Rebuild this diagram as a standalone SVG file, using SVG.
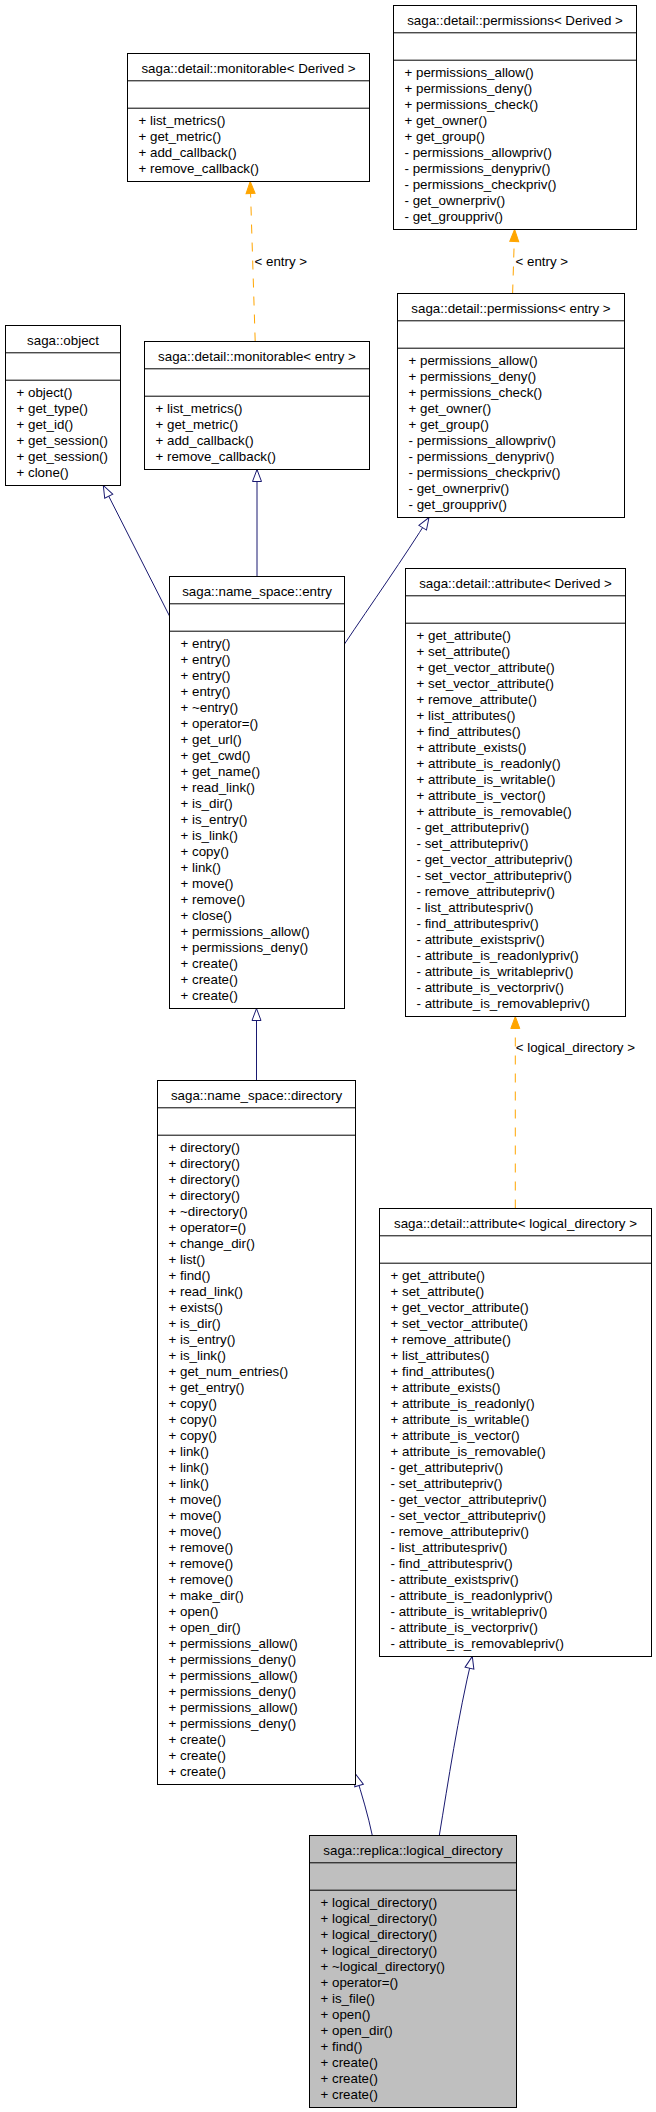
<svg xmlns="http://www.w3.org/2000/svg" width="656" height="2112" viewBox="0 0 656 2112">
<style>
text{font-family:"Liberation Sans",Arial,Helvetica,sans-serif;font-size:13.33px;fill:#000}
.box rect{fill:#fff;stroke:#000;stroke-width:1}
.box.cur rect{fill:#bfbfbf}
.box line{stroke:#000;stroke-width:1}
.ttl{text-anchor:middle}
.inh{stroke:#191970;stroke-width:1;fill:none}
.tpl{stroke:#ffa500;stroke-width:1;fill:none;stroke-dasharray:9,9}
</style>
<defs>
<marker id="hollow" markerUnits="userSpaceOnUse" viewBox="-2 -2 16 13" markerWidth="16" markerHeight="13" refX="12" refY="4.5" orient="auto">
<path d="M0,0 L12,4.5 L0,9 Z" fill="#fff" stroke="#191970" stroke-width="1" stroke-dasharray="none"/>
</marker>
<marker id="filled" markerUnits="userSpaceOnUse" viewBox="-2 -2 16 13" markerWidth="16" markerHeight="13" refX="12" refY="4.5" orient="auto">
<path d="M0,0 L12,4.5 L0,9 Z" fill="#ffa500" stroke="#ffa500" stroke-width="1" stroke-dasharray="none"/>
</marker>
</defs>
<rect x="0" y="0" width="656" height="2112" fill="#fff"/>

<g id="connectors">
<path class="inh" d="M169.5,616 L103.3,485.5" marker-end="url(#hollow)"/>
<path class="inh" d="M257,576.5 L257,469.5" marker-end="url(#hollow)"/>
<path class="inh" d="M344.5,644 C370,606 405,556 429,517.5" marker-end="url(#hollow)"/>
<path class="inh" d="M256.5,1080.5 L256.5,1008.5" marker-end="url(#hollow)"/>
<path class="inh" d="M372.3,1835.5 C368,1815 362,1795 355.5,1774" marker-end="url(#hollow)"/>
<path class="inh" d="M439.3,1835.5 C448,1783 458,1716 472.3,1656.5" marker-end="url(#hollow)"/>
<path class="tpl" d="M255.2,341.5 L250.2,181.5" marker-end="url(#filled)"/>
<path class="tpl" d="M512.6,293.5 L514.6,229.5" marker-end="url(#filled)"/>
<path class="tpl" d="M515.3,1208.5 L515.3,1016.5" marker-end="url(#filled)"/>
<text x="254.5" y="265.5">&lt; entry &gt;</text>
<text x="515.5" y="265.5">&lt; entry &gt;</text>
<text x="515.7" y="1051.7">&lt; logical_directory &gt;</text>
</g>

<g id="permissions_derived" class="box" transform="translate(393.5,5.5)">
<rect width="243" height="224"/><line x1="0" y1="27.3" x2="243" y2="27.3"/><line x1="0" y1="54.7" x2="243" y2="54.7"/>
<text class="ttl" x="121.5" y="19.7">saga::detail::permissions&lt; Derived &gt;</text>
<text x="11" y="71.3"><tspan x="11" y="71.3">+ permissions_allow()</tspan><tspan x="11" dy="16">+ permissions_deny()</tspan><tspan x="11" dy="16">+ permissions_check()</tspan><tspan x="11" dy="16">+ get_owner()</tspan><tspan x="11" dy="16">+ get_group()</tspan><tspan x="11" dy="16">- permissions_allowpriv()</tspan><tspan x="11" dy="16">- permissions_denypriv()</tspan><tspan x="11" dy="16">- permissions_checkpriv()</tspan><tspan x="11" dy="16">- get_ownerpriv()</tspan><tspan x="11" dy="16">- get_grouppriv()</tspan></text>
</g>

<g id="monitorable_derived" class="box" transform="translate(127.5,53.5)">
<rect width="242" height="128"/><line x1="0" y1="27.3" x2="242" y2="27.3"/><line x1="0" y1="54.7" x2="242" y2="54.7"/>
<text class="ttl" x="121" y="19.7">saga::detail::monitorable&lt; Derived &gt;</text>
<text x="11" y="71.3"><tspan x="11" y="71.3">+ list_metrics()</tspan><tspan x="11" dy="16">+ get_metric()</tspan><tspan x="11" dy="16">+ add_callback()</tspan><tspan x="11" dy="16">+ remove_callback()</tspan></text>
</g>

<g id="object" class="box" transform="translate(5.5,325.5)">
<rect width="115" height="160"/><line x1="0" y1="27.3" x2="115" y2="27.3"/><line x1="0" y1="54.7" x2="115" y2="54.7"/>
<text class="ttl" x="57.5" y="19.7">saga::object</text>
<text x="11" y="71.3"><tspan x="11" y="71.3">+ object()</tspan><tspan x="11" dy="16">+ get_type()</tspan><tspan x="11" dy="16">+ get_id()</tspan><tspan x="11" dy="16">+ get_session()</tspan><tspan x="11" dy="16">+ get_session()</tspan><tspan x="11" dy="16">+ clone()</tspan></text>
</g>

<g id="monitorable_entry" class="box" transform="translate(144.5,341.5)">
<rect width="225" height="128"/><line x1="0" y1="27.3" x2="225" y2="27.3"/><line x1="0" y1="54.7" x2="225" y2="54.7"/>
<text class="ttl" x="112.5" y="19.7">saga::detail::monitorable&lt; entry &gt;</text>
<text x="11" y="71.3"><tspan x="11" y="71.3">+ list_metrics()</tspan><tspan x="11" dy="16">+ get_metric()</tspan><tspan x="11" dy="16">+ add_callback()</tspan><tspan x="11" dy="16">+ remove_callback()</tspan></text>
</g>

<g id="permissions_entry" class="box" transform="translate(397.5,293.5)">
<rect width="227" height="224"/><line x1="0" y1="27.3" x2="227" y2="27.3"/><line x1="0" y1="54.7" x2="227" y2="54.7"/>
<text class="ttl" x="113.5" y="19.7">saga::detail::permissions&lt; entry &gt;</text>
<text x="11" y="71.3"><tspan x="11" y="71.3">+ permissions_allow()</tspan><tspan x="11" dy="16">+ permissions_deny()</tspan><tspan x="11" dy="16">+ permissions_check()</tspan><tspan x="11" dy="16">+ get_owner()</tspan><tspan x="11" dy="16">+ get_group()</tspan><tspan x="11" dy="16">- permissions_allowpriv()</tspan><tspan x="11" dy="16">- permissions_denypriv()</tspan><tspan x="11" dy="16">- permissions_checkpriv()</tspan><tspan x="11" dy="16">- get_ownerpriv()</tspan><tspan x="11" dy="16">- get_grouppriv()</tspan></text>
</g>

<g id="name_space_entry" class="box" transform="translate(169.5,576.5)">
<rect width="175" height="432"/><line x1="0" y1="27.3" x2="175" y2="27.3"/><line x1="0" y1="54.7" x2="175" y2="54.7"/>
<text class="ttl" x="87.5" y="19.7">saga::name_space::entry</text>
<text x="11" y="71.3"><tspan x="11" y="71.3">+ entry()</tspan><tspan x="11" dy="16">+ entry()</tspan><tspan x="11" dy="16">+ entry()</tspan><tspan x="11" dy="16">+ entry()</tspan><tspan x="11" dy="16">+ ~entry()</tspan><tspan x="11" dy="16">+ operator=()</tspan><tspan x="11" dy="16">+ get_url()</tspan><tspan x="11" dy="16">+ get_cwd()</tspan><tspan x="11" dy="16">+ get_name()</tspan><tspan x="11" dy="16">+ read_link()</tspan><tspan x="11" dy="16">+ is_dir()</tspan><tspan x="11" dy="16">+ is_entry()</tspan><tspan x="11" dy="16">+ is_link()</tspan><tspan x="11" dy="16">+ copy()</tspan><tspan x="11" dy="16">+ link()</tspan><tspan x="11" dy="16">+ move()</tspan><tspan x="11" dy="16">+ remove()</tspan><tspan x="11" dy="16">+ close()</tspan><tspan x="11" dy="16">+ permissions_allow()</tspan><tspan x="11" dy="16">+ permissions_deny()</tspan><tspan x="11" dy="16">+ create()</tspan><tspan x="11" dy="16">+ create()</tspan><tspan x="11" dy="16">+ create()</tspan></text>
</g>

<g id="attribute_derived" class="box" transform="translate(405.5,568.5)">
<rect width="220" height="448"/><line x1="0" y1="27.3" x2="220" y2="27.3"/><line x1="0" y1="54.7" x2="220" y2="54.7"/>
<text class="ttl" x="110" y="19.7">saga::detail::attribute&lt; Derived &gt;</text>
<text x="11" y="71.3"><tspan x="11" y="71.3">+ get_attribute()</tspan><tspan x="11" dy="16">+ set_attribute()</tspan><tspan x="11" dy="16">+ get_vector_attribute()</tspan><tspan x="11" dy="16">+ set_vector_attribute()</tspan><tspan x="11" dy="16">+ remove_attribute()</tspan><tspan x="11" dy="16">+ list_attributes()</tspan><tspan x="11" dy="16">+ find_attributes()</tspan><tspan x="11" dy="16">+ attribute_exists()</tspan><tspan x="11" dy="16">+ attribute_is_readonly()</tspan><tspan x="11" dy="16">+ attribute_is_writable()</tspan><tspan x="11" dy="16">+ attribute_is_vector()</tspan><tspan x="11" dy="16">+ attribute_is_removable()</tspan><tspan x="11" dy="16">- get_attributepriv()</tspan><tspan x="11" dy="16">- set_attributepriv()</tspan><tspan x="11" dy="16">- get_vector_attributepriv()</tspan><tspan x="11" dy="16">- set_vector_attributepriv()</tspan><tspan x="11" dy="16">- remove_attributepriv()</tspan><tspan x="11" dy="16">- list_attributespriv()</tspan><tspan x="11" dy="16">- find_attributespriv()</tspan><tspan x="11" dy="16">- attribute_existspriv()</tspan><tspan x="11" dy="16">- attribute_is_readonlypriv()</tspan><tspan x="11" dy="16">- attribute_is_writablepriv()</tspan><tspan x="11" dy="16">- attribute_is_vectorpriv()</tspan><tspan x="11" dy="16">- attribute_is_removablepriv()</tspan></text>
</g>

<g id="name_space_directory" class="box" transform="translate(157.5,1080.5)">
<rect width="198" height="704"/><line x1="0" y1="27.3" x2="198" y2="27.3"/><line x1="0" y1="54.7" x2="198" y2="54.7"/>
<text class="ttl" x="99" y="19.7">saga::name_space::directory</text>
<text x="11" y="71.3"><tspan x="11" y="71.3">+ directory()</tspan><tspan x="11" dy="16">+ directory()</tspan><tspan x="11" dy="16">+ directory()</tspan><tspan x="11" dy="16">+ directory()</tspan><tspan x="11" dy="16">+ ~directory()</tspan><tspan x="11" dy="16">+ operator=()</tspan><tspan x="11" dy="16">+ change_dir()</tspan><tspan x="11" dy="16">+ list()</tspan><tspan x="11" dy="16">+ find()</tspan><tspan x="11" dy="16">+ read_link()</tspan><tspan x="11" dy="16">+ exists()</tspan><tspan x="11" dy="16">+ is_dir()</tspan><tspan x="11" dy="16">+ is_entry()</tspan><tspan x="11" dy="16">+ is_link()</tspan><tspan x="11" dy="16">+ get_num_entries()</tspan><tspan x="11" dy="16">+ get_entry()</tspan><tspan x="11" dy="16">+ copy()</tspan><tspan x="11" dy="16">+ copy()</tspan><tspan x="11" dy="16">+ copy()</tspan><tspan x="11" dy="16">+ link()</tspan><tspan x="11" dy="16">+ link()</tspan><tspan x="11" dy="16">+ link()</tspan><tspan x="11" dy="16">+ move()</tspan><tspan x="11" dy="16">+ move()</tspan><tspan x="11" dy="16">+ move()</tspan><tspan x="11" dy="16">+ remove()</tspan><tspan x="11" dy="16">+ remove()</tspan><tspan x="11" dy="16">+ remove()</tspan><tspan x="11" dy="16">+ make_dir()</tspan><tspan x="11" dy="16">+ open()</tspan><tspan x="11" dy="16">+ open_dir()</tspan><tspan x="11" dy="16">+ permissions_allow()</tspan><tspan x="11" dy="16">+ permissions_deny()</tspan><tspan x="11" dy="16">+ permissions_allow()</tspan><tspan x="11" dy="16">+ permissions_deny()</tspan><tspan x="11" dy="16">+ permissions_allow()</tspan><tspan x="11" dy="16">+ permissions_deny()</tspan><tspan x="11" dy="16">+ create()</tspan><tspan x="11" dy="16">+ create()</tspan><tspan x="11" dy="16">+ create()</tspan></text>
</g>

<g id="attribute_logical_directory" class="box" transform="translate(379.5,1208.5)">
<rect width="272" height="448"/><line x1="0" y1="27.3" x2="272" y2="27.3"/><line x1="0" y1="54.7" x2="272" y2="54.7"/>
<text class="ttl" x="136" y="19.7">saga::detail::attribute&lt; logical_directory &gt;</text>
<text x="11" y="71.3"><tspan x="11" y="71.3">+ get_attribute()</tspan><tspan x="11" dy="16">+ set_attribute()</tspan><tspan x="11" dy="16">+ get_vector_attribute()</tspan><tspan x="11" dy="16">+ set_vector_attribute()</tspan><tspan x="11" dy="16">+ remove_attribute()</tspan><tspan x="11" dy="16">+ list_attributes()</tspan><tspan x="11" dy="16">+ find_attributes()</tspan><tspan x="11" dy="16">+ attribute_exists()</tspan><tspan x="11" dy="16">+ attribute_is_readonly()</tspan><tspan x="11" dy="16">+ attribute_is_writable()</tspan><tspan x="11" dy="16">+ attribute_is_vector()</tspan><tspan x="11" dy="16">+ attribute_is_removable()</tspan><tspan x="11" dy="16">- get_attributepriv()</tspan><tspan x="11" dy="16">- set_attributepriv()</tspan><tspan x="11" dy="16">- get_vector_attributepriv()</tspan><tspan x="11" dy="16">- set_vector_attributepriv()</tspan><tspan x="11" dy="16">- remove_attributepriv()</tspan><tspan x="11" dy="16">- list_attributespriv()</tspan><tspan x="11" dy="16">- find_attributespriv()</tspan><tspan x="11" dy="16">- attribute_existspriv()</tspan><tspan x="11" dy="16">- attribute_is_readonlypriv()</tspan><tspan x="11" dy="16">- attribute_is_writablepriv()</tspan><tspan x="11" dy="16">- attribute_is_vectorpriv()</tspan><tspan x="11" dy="16">- attribute_is_removablepriv()</tspan></text>
</g>

<g id="replica_logical_directory" class="box cur" transform="translate(309.5,1835.5)">
<rect width="207" height="272"/><line x1="0" y1="27.3" x2="207" y2="27.3"/><line x1="0" y1="54.7" x2="207" y2="54.7"/>
<text class="ttl" x="103.5" y="19.7">saga::replica::logical_directory</text>
<text x="11" y="71.3"><tspan x="11" y="71.3">+ logical_directory()</tspan><tspan x="11" dy="16">+ logical_directory()</tspan><tspan x="11" dy="16">+ logical_directory()</tspan><tspan x="11" dy="16">+ logical_directory()</tspan><tspan x="11" dy="16">+ ~logical_directory()</tspan><tspan x="11" dy="16">+ operator=()</tspan><tspan x="11" dy="16">+ is_file()</tspan><tspan x="11" dy="16">+ open()</tspan><tspan x="11" dy="16">+ open_dir()</tspan><tspan x="11" dy="16">+ find()</tspan><tspan x="11" dy="16">+ create()</tspan><tspan x="11" dy="16">+ create()</tspan><tspan x="11" dy="16">+ create()</tspan></text>
</g>
</svg>
